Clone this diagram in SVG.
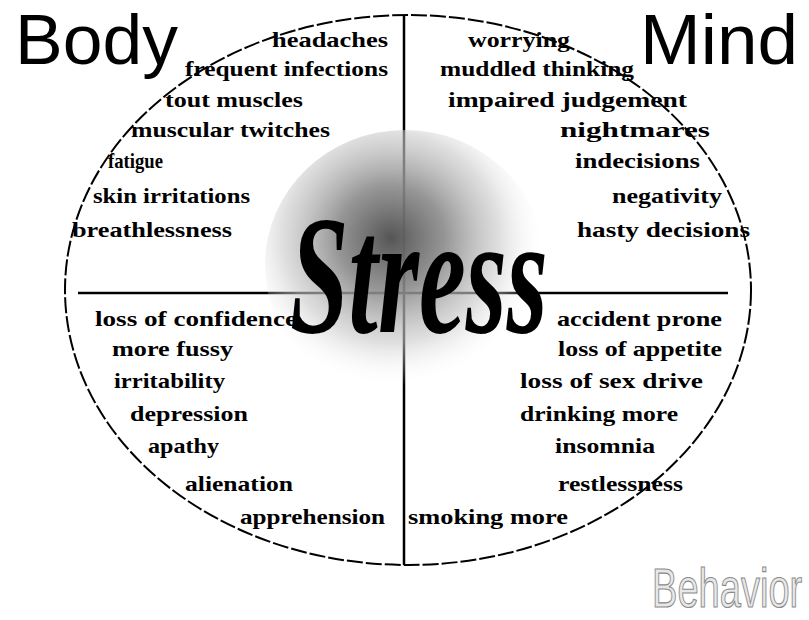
<svg xmlns="http://www.w3.org/2000/svg" width="809" height="620" viewBox="0 0 809 620">
<defs>
<radialGradient id="blob" cx="0.45" cy="0.4" r="0.55">
<stop offset="0" stop-color="#555"/>
<stop offset="0.35" stop-color="#8a8a8a" stop-opacity="0.9"/>
<stop offset="0.7" stop-color="#c8c8c8" stop-opacity="0.6"/>
<stop offset="1" stop-color="#fff" stop-opacity="0"/>
</radialGradient>
</defs>
<style>
.t{font-family:"Liberation Serif","Times New Roman",serif;font-size:22px;font-weight:bold;fill:#000;}
.big{font-family:"Liberation Sans",Arial,sans-serif;font-size:71px;fill:#000;}
.beh{font-family:"Liberation Sans",Arial,sans-serif;font-size:56px;fill:#e8e8e8;stroke:#8a8a8a;stroke-width:1.2;}
.line{stroke:#000;stroke-width:2.5;fill:none;}
</style>
<rect width="809" height="620" fill="#fff"/>
<g id="frame">
<ellipse cx="408" cy="290" rx="343" ry="275" fill="none" stroke="#000" stroke-width="2" stroke-dasharray="16 3"/>
<line class="line" x1="404" y1="15" x2="404" y2="565"/>
<line class="line" x1="78" y1="293" x2="728" y2="293"/>
</g>
<g id="stress">
<ellipse cx="405" cy="265" rx="140" ry="135" fill="url(#blob)"/>
<text transform="translate(290,332) scale(0.62,1)" x="0" y="0" font-family="'Liberation Serif','Times New Roman',serif" font-style="italic" font-weight="bold" font-size="170" fill="#000">Stress</text>
</g>
<g id="title-body"><text class="big" x="15" y="64" textLength="163" lengthAdjust="spacingAndGlyphs">Body</text></g>
<g id="title-mind"><text class="big" x="640" y="64" textLength="158" lengthAdjust="spacingAndGlyphs">Mind</text></g>
<g id="title-behavior"><text class="beh" transform="translate(652,607) scale(0.68,1)" x="0" y="0">Behavior</text></g>
<g id="body-items">
<text class="t" x="272" y="47" textLength="116" lengthAdjust="spacingAndGlyphs">headaches</text>
<text class="t" x="185" y="76" textLength="203" lengthAdjust="spacingAndGlyphs">frequent infections</text>
<text class="t" x="165" y="107" textLength="138" lengthAdjust="spacingAndGlyphs">tout muscles</text>
<text class="t" x="131" y="137" textLength="199" lengthAdjust="spacingAndGlyphs">muscular twitches</text>
<text class="t" x="108" y="168" textLength="55" lengthAdjust="spacingAndGlyphs">fatigue</text>
<text class="t" x="93" y="203" textLength="157" lengthAdjust="spacingAndGlyphs">skin irritations</text>
<text class="t" x="72" y="237" textLength="160" lengthAdjust="spacingAndGlyphs">breathlessness</text>
</g>
<g id="mind-items">
<text class="t" x="468" y="47" textLength="102" lengthAdjust="spacingAndGlyphs">worrying</text>
<text class="t" x="440" y="76" textLength="194" lengthAdjust="spacingAndGlyphs">muddled thinking</text>
<text class="t" x="448" y="107" textLength="239" lengthAdjust="spacingAndGlyphs">impaired judgement</text>
<text class="t" x="560" y="137" textLength="150" lengthAdjust="spacingAndGlyphs">nightmares</text>
<text class="t" x="575" y="168" textLength="125" lengthAdjust="spacingAndGlyphs">indecisions</text>
<text class="t" x="612" y="203" textLength="110" lengthAdjust="spacingAndGlyphs">negativity</text>
<text class="t" x="577" y="237" textLength="173" lengthAdjust="spacingAndGlyphs">hasty decisions</text>
</g>
<g id="behavior-left-items">
<text class="t" x="95" y="326" textLength="202" lengthAdjust="spacingAndGlyphs">loss of confidence</text>
<text class="t" x="112" y="356" textLength="121" lengthAdjust="spacingAndGlyphs">more fussy</text>
<text class="t" x="114" y="388" textLength="111" lengthAdjust="spacingAndGlyphs">irritability</text>
<text class="t" x="130" y="421" textLength="118" lengthAdjust="spacingAndGlyphs">depression</text>
<text class="t" x="148" y="453" textLength="71" lengthAdjust="spacingAndGlyphs">apathy</text>
<text class="t" x="185" y="491" textLength="108" lengthAdjust="spacingAndGlyphs">alienation</text>
<text class="t" x="240" y="524" textLength="145" lengthAdjust="spacingAndGlyphs">apprehension</text>
</g>
<g id="behavior-right-items">
<text class="t" x="557" y="326" textLength="165" lengthAdjust="spacingAndGlyphs">accident prone</text>
<text class="t" x="558" y="356" textLength="164" lengthAdjust="spacingAndGlyphs">loss of appetite</text>
<text class="t" x="520" y="388" textLength="183" lengthAdjust="spacingAndGlyphs">loss of sex drive</text>
<text class="t" x="520" y="421" textLength="158" lengthAdjust="spacingAndGlyphs">drinking more</text>
<text class="t" x="555" y="453" textLength="100" lengthAdjust="spacingAndGlyphs">insomnia</text>
<text class="t" x="558" y="491" textLength="125" lengthAdjust="spacingAndGlyphs">restlessness</text>
<text class="t" x="408" y="524" textLength="160" lengthAdjust="spacingAndGlyphs">smoking more</text>
</g>
</svg>
